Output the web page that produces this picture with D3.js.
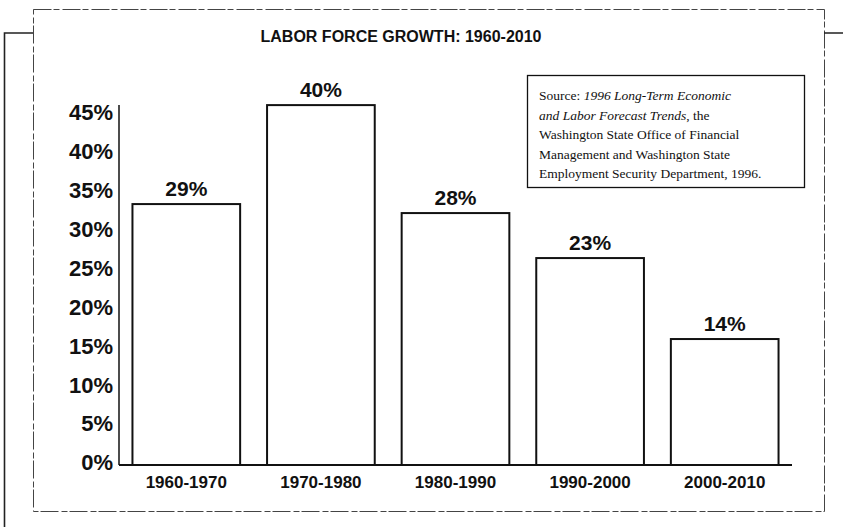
<!DOCTYPE html>
<html>
<head>
<meta charset="utf-8">
<script src="https://cdn.jsdelivr.net/npm/d3@7"></script>
<style>
  body { margin: 0; background: #fff; }
  svg { display: block; }
  .bold { font-family: "Liberation Sans", Arial, sans-serif; font-weight: bold; fill: #111; }
</style>
</head>
<body>
<div id="root"></div>
<script>
// chart values
var periods = ["1960-1970", "1970-1980", "1980-1990", "1990-2000", "2000-2010"];
var growth = [29, 40, 28, 23, 14];
var tickVals = [0, 5, 10, 15, 20, 25, 30, 35, 40, 45];
var title = "LABOR FORCE GROWTH: 1960-2010";
var sourceLines = [
    [["Source: ", false], ["1996 Long-Term Economic", true]],
    [["and Labor Forecast Trends", true], [", the", false]],
    [["Washington State Office of Financial", false]],
    [["Management and Washington State", false]],
    [["Employment Security Department, 1996.", false]]
];

var W = 843, H = 527;

var svg = d3.select("#root")
    .append("svg")
    .attr("width", W)
    .attr("height", H);

// frame: dashed box plus the bracket lines
svg.append("rect")
    .attr("x", 33.5).attr("y", 9.5)
    .attr("width", 791).attr("height", 502)
    .attr("fill", "none")
    .attr("stroke", "#444")
    .attr("stroke-width", 1)
    .attr("stroke-dasharray", "18,2,6,3");

svg.append("path")
    .attr("d", "M33,33H4.5V527M824,33H843")
    .attr("fill", "none")
    .attr("stroke", "#222")
    .attr("stroke-width", 1.6);

// title
svg.append("text")
    .attr("class", "bold")
    .attr("x", 401)
    .attr("y", 42)
    .attr("text-anchor", "middle")
    .style("font-size", "16px")
    .text(title);

// scales
var x = d3.scaleBand()
    .domain(periods)
    .range([119, 792])
    .paddingInner(0.2)
    .paddingOuter(0.1);

// axis labels and bar heights do not share a scale in the original
var yAxisScale = d3.scaleLinear().domain([0, 45]).range([465, 115]);
var y = d3.scaleLinear().domain([0, 38.9]).range([465, 115]);

// y axis
var yAx = svg.append("g")
    .attr("transform", "translate(119,0)")
    .call(d3.axisLeft(yAxisScale)
        .tickValues(tickVals)
        .tickSize(0)
        .tickPadding(6)
        .tickFormat(function (d) { return d + "%"; }));
yAx.select(".domain").remove();
yAx.selectAll("text")
    .attr("class", "bold")
    .attr("dy", "0.22em")
    .style("font-size", "22px");

svg.append("line")
    .attr("x1", 119).attr("x2", 119)
    .attr("y1", yAxisScale(0)).attr("y2", yAxisScale(46.3))
    .attr("stroke", "#111")
    .attr("stroke-width", 1.5);

// bars
svg.selectAll(".bar")
    .data(growth)
    .enter()
    .append("rect")
    .attr("class", "bar")
    .attr("x", function (d, i) { return x(periods[i]); })
    .attr("y", function (d) { return y(d); })
    .attr("width", x.bandwidth())
    .attr("height", function (d) { return y(0) - y(d); })
    .attr("fill", "#fff")
    .attr("stroke", "#111")
    .attr("stroke-width", 2);

// baseline
svg.append("line")
    .attr("x1", 119).attr("x2", 792)
    .attr("y1", y(0)).attr("y2", y(0))
    .attr("stroke", "#111")
    .attr("stroke-width", 2);

// value labels
svg.selectAll(".val")
    .data(growth)
    .enter()
    .append("text")
    .attr("class", "bold")
    .attr("x", function (d, i) { return x(periods[i]) + x.bandwidth() / 2; })
    .attr("y", function (d) { return y(d) - 8; })
    .attr("text-anchor", "middle")
    .style("font-size", "21px")
    .text(function (d) { return d + "%"; });

// x axis
var xAx = svg.append("g")
    .attr("transform", "translate(0," + y(0) + ")")
    .call(d3.axisBottom(x).tickSize(0).tickPadding(11));
xAx.select(".domain").remove();
xAx.selectAll("text")
    .attr("class", "bold")
    .style("font-size", "17px");

// source note
var note = svg.append("g");
note.append("rect")
    .attr("x", 527.5).attr("y", 75.5)
    .attr("width", 277).attr("height", 112)
    .attr("fill", "#fff")
    .attr("stroke", "#111")
    .attr("stroke-width", 1.3);

var noteText = note.selectAll(".line")
    .data(sourceLines)
    .enter()
    .append("text")
    .attr("x", 539)
    .attr("y", function (d, i) { return 100 + i * 19.5; })
    .style("font-family", "\"Liberation Serif\", \"DejaVu Serif\", serif")
    .style("font-size", "13.5px")
    .attr("fill", "#111");

noteText.selectAll("tspan")
    .data(function (d) { return d; })
    .enter()
    .append("tspan")
    .style("font-style", function (d) { return d[1] ? "italic" : "normal"; })
    .text(function (d) { return d[0]; });
</script>
</body>
</html>
